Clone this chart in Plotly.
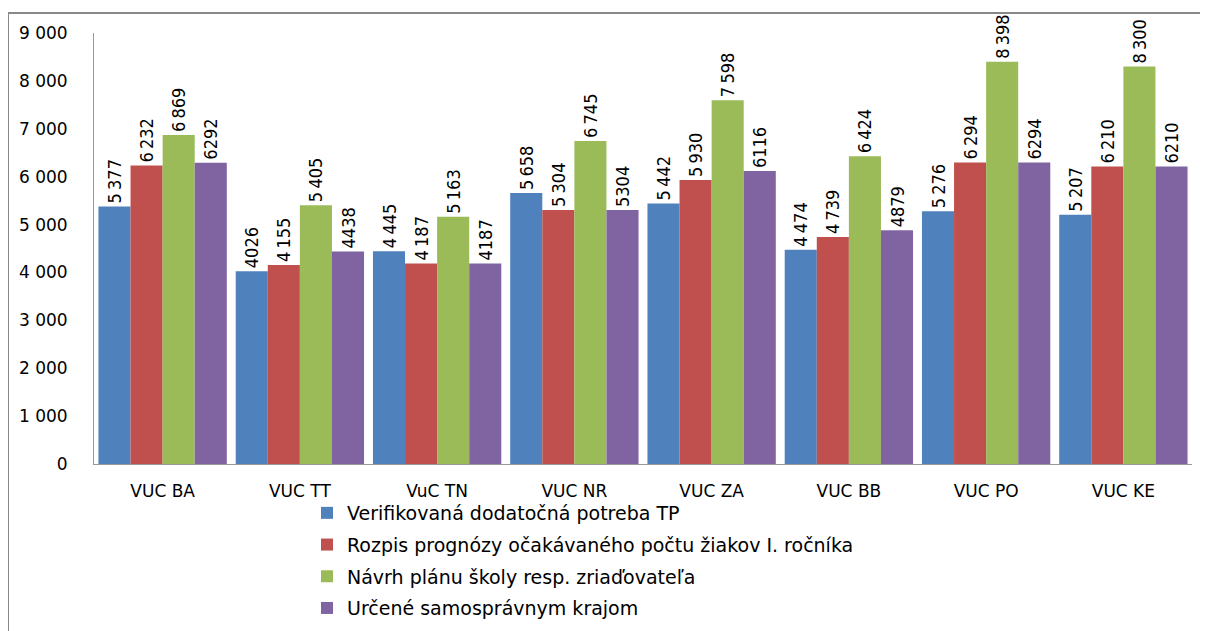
import plotly.graph_objects as go

categories = ["VUC BA", "VUC TT", "VuC TN", "VUC NR", "VUC ZA", "VUC BB", "VUC PO", "VUC KE"]

series_names = [
    "Verifikovaná dodatočná potreba TP",
    "Rozpis prognózy očakávaného počtu žiakov I. ročníka",
    "Návrh plánu školy resp. zriaďovateľa",
    "Určené samosprávnym krajom",
]

verifikovana = [5377, 4026, 4445, 5658, 5442, 4474, 5276, 5207]
rozpis = [6232, 4155, 4187, 5304, 5930, 4739, 6294, 6210]
navrh = [6869, 5405, 5163, 6745, 7598, 6424, 8398, 8300]
urcene = [6292, 4438, 4187, 5304, 6116, 4879, 6294, 6210]

T = "\u2009"
labels_verifikovana = [f"5{T}377", "4026", f"4{T}445", f"5{T}658", f"5{T}442", f"4{T}474", f"5{T}276", f"5{T}207"]
labels_rozpis = [f"6{T}232", f"4{T}155", f"4{T}187", f"5{T}304", f"5{T}930", f"4{T}739", f"6{T}294", f"6{T}210"]
labels_navrh = [f"6{T}869", f"5{T}405", f"5{T}163", f"6{T}745", f"7{T}598", f"6{T}424", f"8{T}398", f"8{T}300"]
labels_urcene = ["6292", "4438", "4187", "5304", "6116", "4879", "6294", "6210"]

y_ticks = [0, 1000, 2000, 3000, 4000, 5000, 6000, 7000, 8000, 9000]
y_ticktext = ["0", "1 000", "2 000", "3 000", "4 000", "5 000", "6 000", "7 000", "8 000", "9 000"]

colors = ["#4F81BD", "#C0504D", "#9BBB59", "#8064A2"]
values = [verifikovana, rozpis, navrh, urcene]
labels = [labels_verifikovana, labels_rozpis, labels_navrh, labels_urcene]

fig = go.Figure()
for i, (name, vals, lab, col) in enumerate(zip(series_names, values, labels, colors)):
    fig.add_trace(go.Bar(
        x=categories, y=vals, name=name, legendgroup=f"g{i}",
        marker=dict(color=col, line=dict(width=0)),
        text=lab, textposition="outside", textangle=-90,
        constraintext="none", cliponaxis=False,
        textfont=dict(family="Liberation Sans Narrow, DejaVu Sans Condensed, Arial Narrow, sans-serif",
                      size=18, color="#000000"),
    ))

# page has an 8px body margin; figure coordinates are page - 8
OFF = 8
W, H = 1200, 623
ml, mr, mt, mb = 94 - OFF, 16, 33 - OFF, 167
pw = W - ml - mr
ph = H - mt - mb

def px_x(x):
    return (x - OFF - ml) / pw

def px_y(y):
    return (H - mb - (y - OFF)) / ph

fig.update_layout(
    width=W, height=H,
    margin=dict(l=ml, r=mr, t=mt, b=mb, pad=0, autoexpand=False),
    paper_bgcolor="white", plot_bgcolor="white",
    barmode="group", bargap=0.065, bargroupgap=0,
    showlegend=True,
    legend=dict(
        xref="container", yref="container",
        x=(307 - OFF) / W, y=1 - (494 - OFF) / H, xanchor="left", yanchor="top",
        orientation="v", traceorder="grouped", tracegroupgap=4,
        font=dict(family="DejaVu Sans, Verdana, sans-serif", size=19, color="#000000"),
        itemwidth=30, bgcolor="rgba(0,0,0,0)",
    ),
    xaxis=dict(
        showline=True, linecolor="#999999", linewidth=1, ticks="",
        tickfont=dict(family="DejaVu Sans, Verdana, sans-serif", size=17, color="#000000"),
        showgrid=False, ticklabelstandoff=12,
    ),
    yaxis=dict(
        range=[0, 9000], tickvals=y_ticks, ticktext=y_ticktext,
        showline=True, linecolor="#999999", linewidth=1, ticks="",
        showgrid=False, zeroline=False,
        tickfont=dict(family="DejaVu Sans, Verdana, sans-serif", size=17, color="#000000"),
        ticklabelstandoff=22,
    ),
    shapes=[
        dict(type="line", xref="paper", yref="paper",
             x0=px_x(8), x1=px_x(1208), y0=px_y(13), y1=px_y(13),
             line=dict(color="#888888", width=2)),
        dict(type="line", xref="paper", yref="paper",
             x0=px_x(8), x1=px_x(8), y0=px_y(13), y1=px_y(631),
             line=dict(color="#888888", width=2)),
    ],
)

fig.write_html("out.html")
